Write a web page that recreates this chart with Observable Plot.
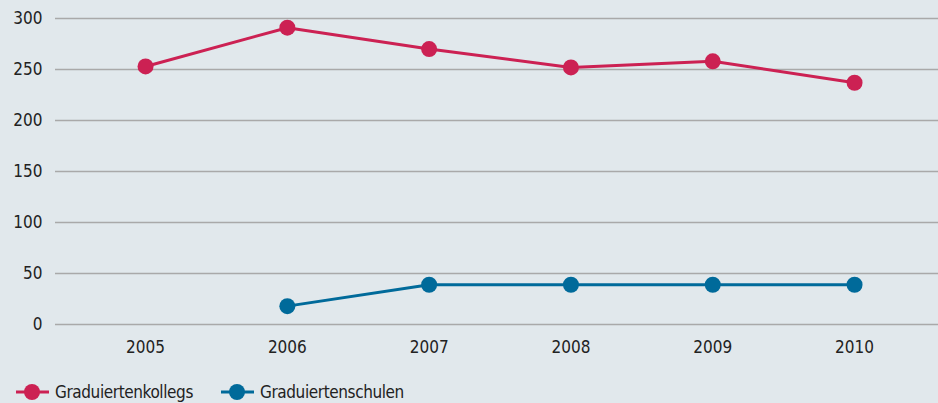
<!DOCTYPE html>
<html><head><meta charset="utf-8">
<script src="https://cdn.jsdelivr.net/npm/d3@7"></script>
<script src="https://cdn.jsdelivr.net/npm/@observablehq/plot@0.6"></script>
<style>
html,body{margin:0;padding:0;background:#e1e8ec;}
body{width:938px;height:403px;overflow:hidden;font-family:"Liberation Sans Narrow","DejaVu Sans Condensed",sans-serif;color:#222;}
#legend{position:relative;height:31px;font-size:17px;letter-spacing:-0.4px;}
.item{position:absolute;top:10px;display:flex;align-items:center;}
.item svg{margin-right:6px;}
</style></head><body>
<div id="chart"></div>
<div id="legend"></div>
<script>
const years = [2005, 2006, 2007, 2008, 2009, 2010];
const kollegs = [253, 291, 270, 252, 258, 237];
const schulen = [null, 18, 39, 39, 39, 39];
const seriesNames = ["Graduiertenkollegs", "Graduiertenschulen"];
const seriesColors = ["#cc2153", "#006a9a"];
const yTicks = [0, 50, 100, 150, 200, 250, 300];

const data = [];
years.forEach((y, i) => {
  data.push({year: y, value: kollegs[i], series: seriesNames[0]});
  if (schulen[i] != null) data.push({year: y, value: schulen[i], series: seriesNames[1]});
});

const chart = Plot.plot({
  width: 938, height: 372,
  marginLeft: 55, marginRight: 0, marginTop: 18, marginBottom: 48,
  style: {background: "#e1e8ec", fontSize: "17px", fontFamily: "'Liberation Sans Narrow','DejaVu Sans Condensed',sans-serif", color: "#222"},
  x: {domain: [2004.365, 2010.592], ticks: years, tickFormat: d => String(d), tickSize: 0, tickPadding: 16, label: null},
  y: {domain: [0, 300], ticks: yTicks, tickSize: 0, tickPadding: 13, label: null},
  color: {domain: seriesNames, range: seriesColors},
  marks: [
    Plot.ruleY(yTicks, {stroke: "#a9a9a9", strokeWidth: 1.6, strokeOpacity: 1}),
    Plot.axisY({ticks: yTicks, tickSize: 0, tickPadding: 13, label: null, fill: "#222"}),
    Plot.axisX({ticks: years, tickFormat: d => String(d), tickSize: 0, tickPadding: 16, label: null, fill: "#222"}),
    Plot.line(data, {x: "year", y: "value", z: "series", stroke: "series", strokeWidth: 3}),
    Plot.dot(data, {x: "year", y: "value", fill: "series", r: 8})
  ]
});
document.getElementById("chart").appendChild(chart);

const legend = document.getElementById("legend");
const lefts = [16, 221];
seriesNames.forEach((name, i) => {
  const d = document.createElement("div");
  d.className = "item";
  d.style.left = lefts[i] + "px";
  d.innerHTML = `<svg width="33" height="18"><line x1="0" y1="9" x2="33" y2="9" stroke="${seriesColors[i]}" stroke-width="3"/><circle cx="16" cy="9" r="8" fill="${seriesColors[i]}"/></svg><span>${name}</span>`;
  legend.appendChild(d);
});
</script>
</body></html>
